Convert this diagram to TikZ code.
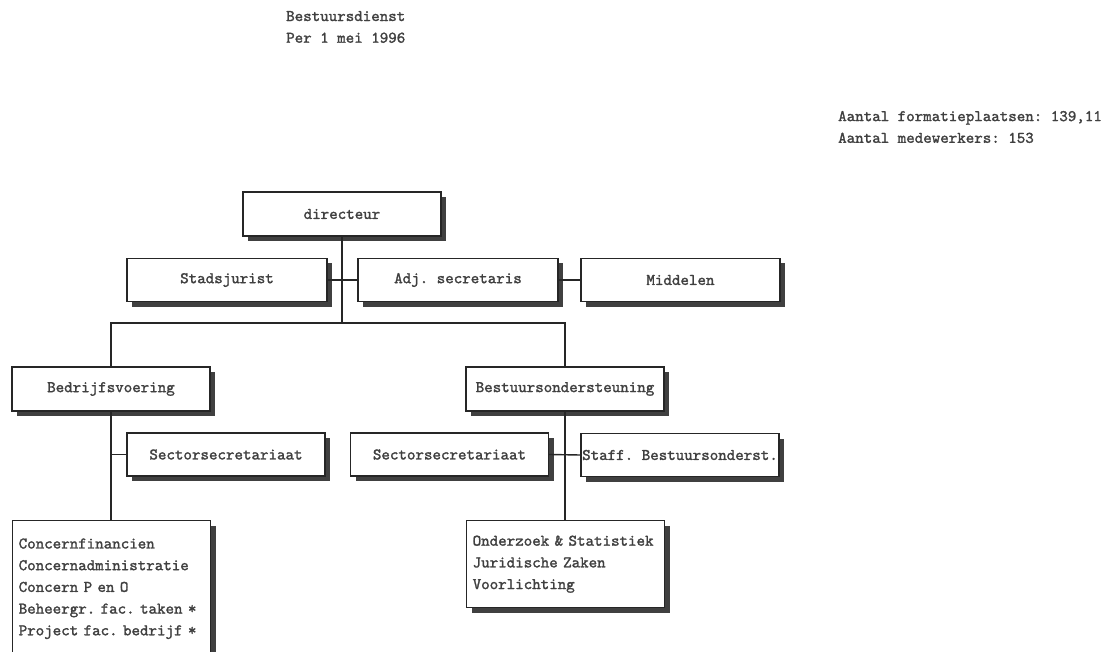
\documentclass[tikz,border=0pt]{standalone}
\usepackage{fontspec}
\setmonofont{lmmono10-regular.otf}[FakeBold=1.6]
\usetikzlibrary{positioning, shadows}
\frenchspacing

\begin{document}
\begin{tikzpicture}[
    x=1pt, y=-1pt,
    every node/.style={font=\ttfamily\fontsize{16.2}{21.7}\selectfont, text=black!75},
    unit/.style={draw=black!85, line width=1.4pt, fill=white, rectangle, minimum width=198pt, minimum height=44pt, inner sep=0pt,
        drop shadow={shadow xshift=5pt, shadow yshift=-5pt, fill=black!75, opacity=1}},
    listbox/.style={unit, anchor=north west, align=left, text width=186pt, inner xsep=6pt},
    label/.style={anchor=west, inner sep=0pt, align=left},
    line/.style={draw=black!85, line width=1.4pt}
]
\useasboundingbox (0,0) rectangle (1108,652);

% headings
\node[label] (title) at (286,27) {Bestuursdienst\\Per 1 mei 1996};
\node[label] (count) at (838,127) {Aantal formatieplaatsen: 139,11\\Aantal medewerkers: 153};

% top level
\node[unit] (dir) at (342,214) {directeur};
\node[unit, minimum width=200pt, minimum height=43pt] (stad) at (227,280) {Stadsjurist};
\node[unit, minimum width=200pt, minimum height=43pt] (adj) at (458,280) {Adj. secretaris};
\node[unit, minimum width=199pt, minimum height=43pt] (mid) at (680.5,280) {Middelen};

% sectors
\node[unit] (bedr) at (111,389) {Bedrijfsvoering};
\node[unit] (best) at (565,389) {Bestuursondersteuning};
\node[unit, minimum height=43pt] (sec1) at (226,454.5) {Sectorsecretariaat};
\node[unit, minimum height=43pt] (sec2) at (449.5,454.5) {Sectorsecretariaat};
\node[unit, minimum height=43pt] (staff) at (680,455) {Staff. Bestuursonderst.};

% departments
\node[listbox, minimum height=136pt] (conc) at (12,520) {Concernfinancien\\Concernadministratie\\Concern P en O\\Beheergr. fac. taken *\\Project fac. bedrijf *};
\node[listbox, minimum height=87pt] (onder) at (466,520) {Onderzoek \& Statistiek\\Juridische Zaken\\Voorlichting};

\coordinate (split) at (342,323);

\draw[line] (dir.south) -- (split);
\draw[line] (stad.east) -- (adj.west);
\draw[line] (adj.east) -- (mid.west);
\draw[line] (bedr.north) |- (split) -| (best.north);
\draw[line] (bedr.south) -- (conc.north -| bedr.south);
\draw[line] (sec1.west) -- (sec1.west -| bedr.south);
\draw[line] (best.south) -- (onder.north -| best.south);
\draw[line] (sec2.east) -- (staff.west);
\end{tikzpicture}
\end{document}
